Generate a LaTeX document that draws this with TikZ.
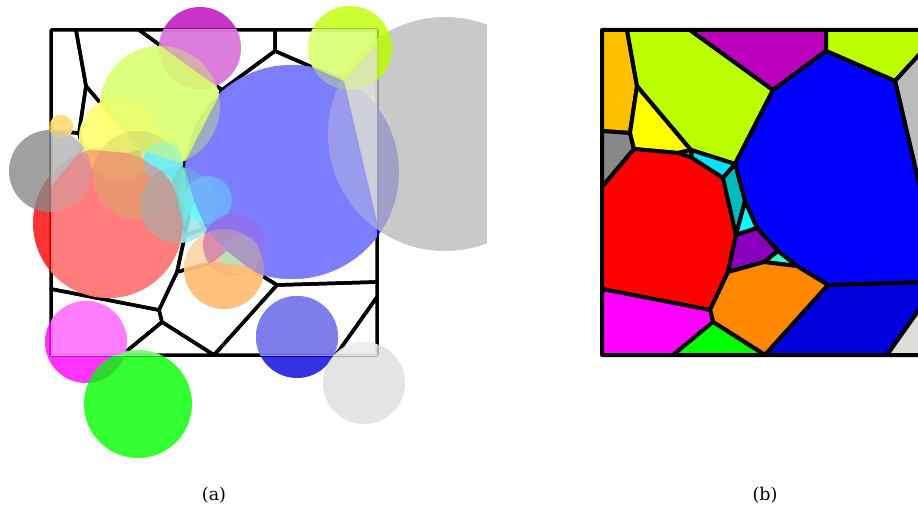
\documentclass[tikz,border=0pt]{standalone}
\usepackage{fontspec}
\newfontfamily\capfamily{DejaVu Serif}
\definecolor{cAmber}{HTML}{FFC000}
\definecolor{cLime}{HTML}{BBFF00}
\definecolor{cPurple}{HTML}{BB00BB}
\definecolor{cGrayR}{HTML}{BBBBBB}
\definecolor{cBlue}{HTML}{0000FF}
\definecolor{cYellow}{HTML}{FFFF00}
\definecolor{cGrayL}{HTML}{888888}
\definecolor{cRed}{HTML}{FF0000}
\definecolor{cOlive}{HTML}{AAAA00}
\definecolor{cCyan}{HTML}{00E5FF}
\definecolor{cTeal}{HTML}{00BBBB}
\definecolor{cCyanT}{HTML}{00FFFF}
\definecolor{cViolet}{HTML}{8800BB}
\definecolor{cAqua}{HTML}{33FFCC}
\definecolor{cOrange}{HTML}{FF8800}
\definecolor{cDBlue}{HTML}{0000DD}
\definecolor{cMagenta}{HTML}{FF00FF}
\definecolor{cGreen}{HTML}{00FF00}
\definecolor{cLGray}{HTML}{DDDDDD}
\def\pdAmber{(51,30)--(76,30)--(86,86)--(79,133)--(51,131)--cycle}
\def\pdGrayL{(51,131)--(79,133)--(83,149)--(51,187)--cycle}
\def\pdYellow{(86,86)--(140,150)--(127,153)--(83,149)--(79,133)--cycle}
\def\pdLime{(76,30)--(139,30)--(222,90)--(184,164)--(140,150)--(86,86)--cycle}
\def\pdPurple{(139,30)--(275,30)--(275,51)--(222,90)--cycle}
\def\pdLimeB{(275,30)--(377,30)--(377,45)--(344,81)--(275,51)--cycle}
\def\pdGrayR{(377,45)--(344,81)--(377,222)--cycle}
\def\pdBlue{(222,90)--(275,51)--(344,81)--(377,222)--(377,282)--(277,285)--(246,266)--(227,251)--(206,228)--(194,201)--(184,164)--cycle}
\def\pdOlive{(127,153)--(140,150)--(141,158)--cycle}
\def\pdCyan{(140,150)--(184,164)--(172,178)--(141,158)--cycle}
\def\pdRed{(51,187)--(83,149)--(127,153)--(141,158)--(172,178)--(185,235)--(177,272)--(159,310)--(51,289)--cycle}
\def\pdTeal{(184,164)--(194,201)--(185,235)--(172,178)--cycle}
\def\pdCyanT{(194,201)--(206,228)--(185,235)--cycle}
\def\pdViolet{(185,235)--(206,228)--(227,251)--(213,262)--(177,272)--cycle}
\def\pdAqua{(213,262)--(227,251)--(246,266)--cycle}
\def\pdOrange{(177,272)--(213,262)--(246,266)--(277,285)--(214,355)--(162,322)--(159,310)--cycle}
\def\pdDBlue{(277,285)--(377,282)--(377,297)--(336,355)--(214,355)--cycle}
\def\pdLGray{(377,297)--(377,355)--(336,355)--cycle}
\def\pdMagenta{(51,289)--(159,310)--(162,322)--(122,355)--(51,355)--cycle}
\def\pdGreen{(162,322)--(214,355)--(122,355)--cycle}
\newcommand\owndisc[4]{\begin{scope}\clip #1; \fill[#2, owncell] (#3) circle (#4pt);\end{scope}}
\newcommand\capfont{\capfamily\fontsize{17.5pt}{21pt}\selectfont}
\tikzset{
  cellline/.style={draw=black, line width=4pt, line join=round},
  leftline/.style={draw=black, line width=3.5pt, line join=round},
  disc/.style={opacity=0.8},
  owncell/.style={opacity=0.28},
  subcap/.style={inner sep=0pt},
}
\begin{document}
\begin{tikzpicture}[x=1pt,y=-1pt]
\useasboundingbox (0,0) rectangle (918,511);
% ---------- panel (a)
\begin{scope}
\clip (0,0) rectangle (487,511);
\foreach \p in {\pdAmber,\pdGrayL,\pdYellow,\pdLime,\pdPurple,\pdLimeB,\pdGrayR,\pdBlue,\pdOlive,\pdCyan,\pdRed,\pdTeal,\pdCyanT,\pdViolet,\pdAqua,\pdOrange,\pdDBlue,\pdLGray,\pdMagenta,\pdGreen}
  {\draw[leftline] \p;}
\fill[cBlue, disc] (292,172) circle (107pt);
\fill[cGrayR, disc] (445,134) circle (117pt);
\fill[cRed, disc] (108,223) circle (75pt);
\fill[cPurple, disc] (200,48) circle (41pt);
\fill[cLime, disc] (160,106) circle (60pt);
\fill[cLime, disc] (350,48) circle (42pt);
\fill[cYellow, disc] (120,138) circle (41pt);
\fill[cGrayL, disc] (50,171) circle (41pt);
\fill[cAmber, disc] (61,127) circle (12pt);
\fill[cOlive, disc] (137,175) circle (44pt);
\fill[cCyan, disc] (163,162) circle (20pt);
\fill[cTeal, disc] (178,205) circle (38pt);
\fill[cCyanT, disc] (208,200) circle (24pt);
\fill[cViolet, disc] (234,245) circle (31pt);
\fill[cAqua, disc] (240,255) circle (20pt);
\fill[cOrange, disc] (224,269) circle (40pt);
\fill[cDBlue, disc] (297,337) circle (41pt);
\fill[cMagenta, disc] (86,342) circle (41pt);
\fill[cGreen, disc] (138,404) circle (54pt);
\fill[cLGray, disc] (364,383) circle (41pt);
\begin{scope}
\clip (51,30) rectangle (377,355);
\fill[white, opacity=0.6] (445,134) circle (117pt) (292,172) circle (107pt)
  (108,223) circle (75pt) (160,106) circle (60pt) (200,48) circle (41pt)
  (350,48) circle (42pt) (120,138) circle (41pt) (50,171) circle (41pt)
  (61,127) circle (12pt) (137,175) circle (44pt) (163,162) circle (20pt)
  (178,205) circle (38pt) (208,200) circle (24pt) (234,245) circle (31pt)
  (240,255) circle (20pt) (224,269) circle (40pt) (297,337) circle (41pt)
  (86,342) circle (41pt) (138,404) circle (54pt) (364,383) circle (41pt);
\end{scope}
\owndisc{\pdBlue}{cBlue}{292,172}{107}
\owndisc{\pdGrayR}{cGrayR}{445,134}{117}
\owndisc{\pdRed}{cRed}{108,223}{75}
\owndisc{\pdLime}{cLime}{160,106}{60}
\owndisc{\pdPurple}{cPurple}{200,48}{41}
\owndisc{\pdLimeB}{cLime}{350,48}{42}
\owndisc{\pdYellow}{cYellow}{120,138}{41}
\owndisc{\pdGrayL}{cGrayL}{50,171}{41}
\owndisc{\pdAmber}{cAmber}{61,127}{12}
\owndisc{\pdOlive}{cOlive}{137,175}{44}
\owndisc{\pdCyan}{cCyan}{163,162}{20}
\owndisc{\pdTeal}{cTeal}{178,205}{38}
\owndisc{\pdCyanT}{cCyanT}{208,200}{24}
\owndisc{\pdViolet}{cViolet}{234,245}{31}
\owndisc{\pdAqua}{cAqua}{240,255}{20}
\owndisc{\pdOrange}{cOrange}{224,269}{40}
\owndisc{\pdDBlue}{cDBlue}{297,337}{41}
\owndisc{\pdMagenta}{cMagenta}{86,342}{41}
\owndisc{\pdGreen}{cGreen}{138,404}{54}
\owndisc{\pdLGray}{cLGray}{364,383}{41}
\end{scope}
% ---------- panel (b)
\begin{scope}[xshift=551pt]
\filldraw[cellline, fill=cAmber] \pdAmber;
\filldraw[cellline, fill=cGrayL] \pdGrayL;
\filldraw[cellline, fill=cYellow] \pdYellow;
\filldraw[cellline, fill=cLime] \pdLime;
\filldraw[cellline, fill=cPurple] \pdPurple;
\filldraw[cellline, fill=cLime] \pdLimeB;
\filldraw[cellline, fill=cGrayR] \pdGrayR;
\filldraw[cellline, fill=cBlue] \pdBlue;
\filldraw[cellline, fill=cOlive] \pdOlive;
\filldraw[cellline, fill=cCyan] \pdCyan;
\filldraw[cellline, fill=cRed] \pdRed;
\filldraw[cellline, fill=cTeal] \pdTeal;
\filldraw[cellline, fill=cCyanT] \pdCyanT;
\filldraw[cellline, fill=cViolet] \pdViolet;
\filldraw[cellline, fill=cAqua] \pdAqua;
\filldraw[cellline, fill=cOrange] \pdOrange;
\filldraw[cellline, fill=cDBlue] \pdDBlue;
\filldraw[cellline, fill=cLGray] \pdLGray;
\filldraw[cellline, fill=cMagenta] \pdMagenta;
\filldraw[cellline, fill=cGreen] \pdGreen;
\end{scope}
\node[subcap] (capa) at (214,495) {\capfont (a)};
\node[subcap] (capb) at (765,495) {\capfont (b)};
\end{tikzpicture}
\end{document}
